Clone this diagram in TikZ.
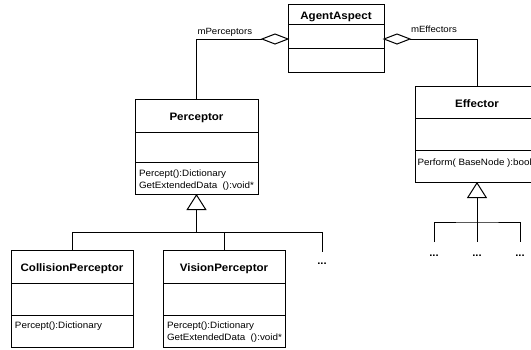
\documentclass[tikz,border=0pt]{standalone}
\usepackage{fontspec}
\setmainfont{Liberation Sans}[FakeStretch=1.07]
\usetikzlibrary{shapes.geometric,arrows.meta}

% UML class box: #1 name, #2 left, #3 top, #4 width, #5 height,
% #6 first separator offset, #7 second separator offset, #8 title
\newcommand\classbox[8]{%
  \node[cls, anchor=north west, minimum width=#4pt, minimum height=#5pt] (#1) at (#2,#3) {};
  \draw (#1.north west) ++(0,#6) coordinate (#1-s1) -- ++(#4,0);
  \draw (#1.north west) ++(0,#7) coordinate (#1-s2) -- ++(#4,0);
  \path (#1.north) ++(0,{#6/2+5}) node[ttl] (#1-t) {#8};
}

\begin{document}
\begin{tikzpicture}[x=1pt, y=-1pt, line width=1pt,
  cls/.style={draw, rectangle, inner sep=0pt, outer sep=0pt, fill=white},
  ttl/.style={font=\fontsize{10.8}{12}\selectfont\bfseries, anchor=base, inner sep=0pt},
  op/.style={font=\fontsize{9.2}{10}\selectfont, anchor=base west, inner sep=0pt},
  role/.style={font=\fontsize{9}{10}\selectfont, anchor=base west, inner sep=0pt},
  agg/.style={diamond, draw, fill=white, inner sep=0pt, outer sep=0pt,
    minimum width=26pt, minimum height=10pt},
  gen/.style={-{Triangle[open, length=16pt, width=20pt]}},
  more/.style={font=\fontsize{10.5}{12}\selectfont\bfseries, anchor=base, inner sep=0pt}]
\useasboundingbox (0,0) rectangle (531,349);
\clip (0,0) rectangle (531,349);

% classes
\classbox{aa}{288}{4}{96}{68}{20}{44}{AgentAspect}
\classbox{perc}{135}{99}{123}{95}{33}{63}{Perceptor}
\classbox{eff}{415}{86}{124}{96}{32}{64}{Effector}
\classbox{coll}{11}{250}{122}{97}{33}{65}{CollisionPerceptor}
\classbox{vis}{163}{250}{122}{97}{33}{65}{VisionPerceptor}

% operations
\path (perc-s2) ++(3.5,14) node[op] (perc-o1) {Percept():Dictionary};
\path (perc-s2) ++(3.5,26.5) node[op] (perc-o2) {GetExtendedData\ \ ():void*};
\path (eff-s2) ++(2,15) node[op] (eff-o1) {Perform( BaseNode ):bool};
\path (coll-s2) ++(3.5,13.3) node[op] (coll-o1) {Percept():Dictionary};
\path (vis-s2) ++(3.5,13.3) node[op] (vis-o1) {Percept():Dictionary};
\path (vis-s2) ++(3.5,25) node[op] (vis-o2) {GetExtendedData\ \ ():void*};

% aggregations
\node[agg, anchor=east] (dP) at (aa.west |- 0,39) {};
\node[agg, anchor=west] (dE) at (aa.east |- 0,39) {};
\draw (dP.west) -| (perc.north);
\draw (dE.east) -| (eff.north);
\node[role] (rP) at (197,34.7) {mPerceptors};
\node[role] (rE) at (410.5,32) {mEffectors};

% generalization of Perceptor
\coordinate (hubP) at (perc.south |- 0,232);
\node[more] (moreP) at (322,264) {...};
\coordinate (endP) at (322,252);
\draw[gen] (hubP) -- (perc.south);
\draw (coll.north) |- (endP |- hubP) -- (endP);
\draw (vis.north) -- (vis.north |- hubP);

% generalization of Effector
\coordinate (hubE) at (eff.south |- 0,222);
\node[more] (moreE1) at (434,256) {...};
\node[more] (moreE2) at (477,256) {...};
\node[more] (moreE3) at (520,256) {...};
\coordinate (endE1) at (434,242);
\coordinate (endE2) at (477,242);
\coordinate (endE3) at (520,242);
\draw[gen] (hubE) -- (eff.south);
\draw (endE1) |- (hubE) -| (endE3);
\draw (hubE) -- (endE2);
\end{tikzpicture}
\end{document}
